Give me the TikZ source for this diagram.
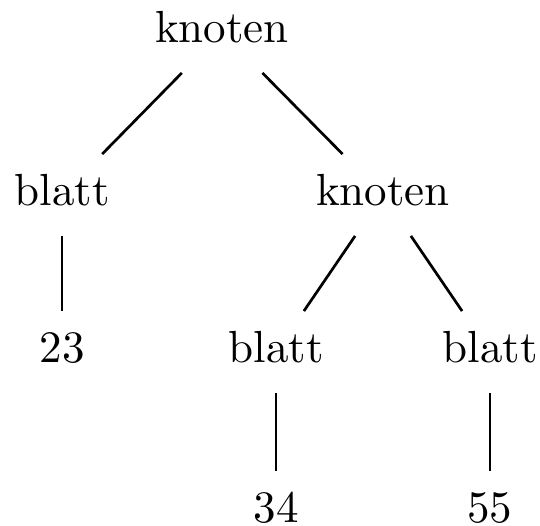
\documentclass[tikz,border=0pt]{standalone}
\begin{document}
\begin{tikzpicture}[x=0.2222pt,y=-0.2222pt,
  tn/.style={inner xsep=2pt, inner ysep=0pt, text height=11.3pt, text depth=6.5pt, font=\fontsize{10}{12}\selectfont},
  edge/.style={line width=0.6pt}]
\useasboundingbox (0,0) rectangle (540,526);
\node[tn] (k1) at (222,32) {knoten};
\node[tn] (b1) at (62,195) {blatt};
\node[tn] (k2) at (383,195) {knoten};
\node[tn] (n23) at (62,352) {23};
\node[tn] (b2) at (276,352) {blatt};
\node[tn] (b3) at (490,352) {blatt};
\node[tn] (n34) at (276,512) {34};
\node[tn] (n55) at (490,512) {55};
\draw[edge] (k1) -- (b1);
\draw[edge] (k1) -- (k2);
\draw[edge] (b1) -- (n23);
\draw[edge] (k2) -- (b2);
\draw[edge] (k2) -- (b3);
\draw[edge] (b2) -- (n34);
\draw[edge] (b3) -- (n55);
\end{tikzpicture}
\end{document}
